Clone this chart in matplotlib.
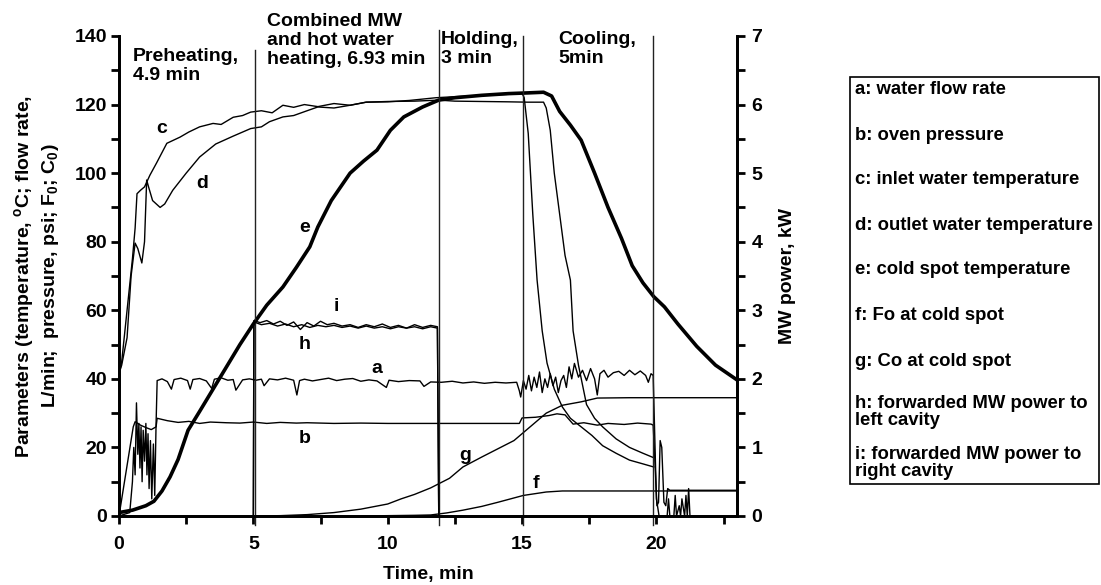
import matplotlib.pyplot as plt
from matplotlib.ticker import MultipleLocator
from matplotlib.patches import Rectangle

plt.rcParams['font.family'] = ['Liberation Sans', 'DejaVu Sans']
plt.rcParams['font.weight'] = 'bold'
plt.rcParams['mathtext.fontset'] = 'custom'
plt.rcParams['mathtext.rm'] = 'Liberation Sans:bold'
plt.rcParams['mathtext.bf'] = 'Liberation Sans:bold'
plt.rcParams['mathtext.it'] = 'Liberation Sans:bold'

# a: water flow rate (L/min)
a_t = [0, 0.2, 0.4, 0.5, 0.55, 0.6, 0.65, 0.7, 0.74, 0.78, 0.82, 0.86, 0.9, 0.95, 1.0, 1.04,
       1.08, 1.12, 1.17, 1.22, 1.28, 1.33, 1.38, 1.42, 1.6, 1.8, 1.95, 2.05, 2.3, 2.55, 2.65,
       2.75, 3.0, 3.25, 3.45, 3.55, 3.8, 4.05, 4.25, 4.35, 4.6, 4.85, 5.1, 5.3, 5.4, 5.6, 5.9,
       6.2, 6.5, 6.62, 6.72, 6.9, 7.2, 7.5, 7.8, 8.1, 8.4, 8.7, 9.0, 9.3, 9.6, 9.95, 10.05,
       10.4, 10.8, 11.2, 11.35, 11.6, 12.0, 12.4, 12.8, 13.2, 13.6, 14.0, 14.4, 14.8, 14.9,
       14.95, 15.05, 15.15, 15.25, 15.35, 15.45, 15.55, 15.65, 15.75, 15.85, 15.95, 16.05,
       16.15, 16.25, 16.35, 16.45, 16.55, 16.65, 16.75, 16.85, 16.95, 17.1, 17.25, 17.4,
       17.55, 17.7, 17.8, 17.9, 18.05, 18.2, 18.4, 18.6, 18.8, 19.0, 19.2, 19.4, 19.6, 19.7,
       19.8, 19.88, 19.95, 20.0, 20.1, 20.4, 20.45, 20.5, 20.65, 20.7, 20.75, 20.85, 20.9,
       20.95, 21.05, 21.1, 21.15, 21.2, 21.25]
a_v = [0, 0.5, 1, 10, 20, 12, 33, 18, 27, 14, 26, 10, 25, 16, 27, 12,
       24, 8, 22, 5, 21, 6, 27, 39.5, 40, 39.2, 37, 39.8, 40.2, 39.5, 37,
       39.8, 40.1, 39.4, 37.2, 39.9, 40.3, 39.6, 39.8, 36.7, 39.7, 40.0, 39.6, 39.9, 38.0, 40.0, 39.7,
       40.2, 39.6, 35.3, 39.5, 39.9, 39.4, 39.8, 40.2, 39.5, 39.9, 40.1, 39.3, 39.7, 39.4, 37.5, 39.6,
       39.2, 39.5, 39.4, 37.8, 39.1, 39.0, 39.3, 38.8, 39.1, 38.7, 39.0, 38.8, 39.0, 36.5,
       34.7, 39.5, 37.0, 41.0, 36.5, 40.5, 37.5, 42.0, 36.0, 40.0, 37.5, 41.5,
       38.0, 40.5, 36.0, 39.5, 41.0, 37.5, 43.5, 40.0, 44.5, 40.5, 42.5, 39.5,
       43.0, 40.0, 35.3, 41.5, 42.5, 40.5, 41.8, 42.2, 41.0, 42.5, 41.2, 42.3, 41.0, 39.0,
       41.5, 41.0, 20, 5, 0, 0, 5, 0, 0, 6, 0, 3, 0,
       5, 0, 6, 0, 8, 0]

# b: oven pressure (psi)
b_t = [0, 0.53, 0.6, 0.8, 1.0, 1.2, 1.38, 1.42, 1.8, 2.2, 2.6, 3.0, 3.4, 4.0, 4.5, 5.0, 5.5,
       6.0, 6.6, 7.0, 8.0, 9.0, 10.0, 11.0, 12.0, 13.0, 14.0, 14.9, 15.0, 15.5, 16.0, 16.3,
       16.6, 16.9, 17.3, 17.8, 18.2, 18.8, 19.3, 19.8, 19.88, 19.95, 20.02, 20.08, 20.14,
       20.2, 20.28, 20.35, 20.42, 20.5, 21.5, 23.0]
b_v = [0, 26, 27.5, 26.5, 25.8, 25.2, 26.0, 28.5, 27.8, 27.3, 27.6, 27.0, 27.4, 27.2, 27.1, 27.4, 27.0,
       27.3, 27.1, 27.2, 27.0, 27.1, 27.0, 27.0, 27.0, 27.0, 27.0, 27.0, 28.6, 28.8, 29.3, 29.8,
       29.5, 26.8, 27.2, 26.5, 27.0, 26.7, 27.1, 26.8, 26.5, 15, 3, 4, 22,
       20, 4, 3, 8, 7.5, 7.5, 7.5]

# c: inlet water temperature
c_t = [0, 0.02, 0.1, 0.3, 0.5, 0.6, 0.67, 0.8, 0.95, 1.15, 1.4, 1.78, 2.27, 2.6, 3.0, 3.5,
       3.8, 4.25, 4.6, 4.9, 5.3, 5.7, 6.1, 6.5, 6.9, 7.4, 8.0, 8.6, 9.2, 10.0, 10.8, 11.8, 12.5,
       13.5, 14.5, 15.0, 15.08, 15.23, 15.4, 15.56, 15.75, 15.93, 16.2, 16.5, 16.8, 17.2,
       17.6, 18.0, 18.5, 19.0, 19.5, 19.9]
c_v = [0, 42, 45, 60, 75, 84, 94, 95, 96, 99.4, 103, 108.7, 110.5, 112, 113.5, 114.5,
       114.2, 116.3, 116.8, 117.8, 118.2, 117.6, 119.8, 119.2, 120.0, 119.4, 120.3, 119.8, 120.7, 120.8, 121.2, 122.0, 122.3,
       122.7, 123.0, 123.3, 122.0, 111.6, 88, 68.8, 54, 44.6, 37, 31.8, 28.5, 26,
       23.5, 20.5, 18.3, 16.3, 15.2, 14.3]

# d: outlet water temperature
d_t = [0, 0.02, 0.1, 0.3, 0.45, 0.6, 0.7, 0.85, 0.95, 1.03, 1.1, 1.25, 1.53, 1.7, 2.0, 2.5,
       3.0, 3.6, 4.25, 4.9, 5.3, 5.6, 6.1, 6.5, 7.0, 7.4, 8.0, 8.6, 9.2, 10.0, 11.0, 11.9, 12.5,
       13.5, 14.5, 15.2, 15.8, 15.9, 16.05, 16.2, 16.4, 16.6, 16.8, 16.9, 17.1, 17.4, 17.7,
       18.0, 18.5, 19.0, 19.5, 19.9]
d_v = [0, 42, 44, 52, 70, 79.6, 78, 73.8, 80, 98, 96, 92, 90, 91, 95, 100,
       104.7, 108.5, 110.8, 113.0, 113.5, 115.0, 116.4, 116.8, 118.2, 119.3, 119.0, 119.8, 120.7, 120.9, 121.0, 121.3, 121.0,
       120.9, 120.8, 120.7, 120.7, 119, 112.5, 100, 88, 76, 68.8, 54, 44, 32.5, 28.5,
       26, 22.5, 20, 18.3, 17]

# e: cold spot temperature
e_t = [0, 0.5, 1.0, 1.3, 1.6, 1.9, 2.2, 2.57, 3.0, 3.5, 4.0, 4.5, 5.0, 5.5, 6.1, 6.6, 7.1,
       7.4, 7.9, 8.6, 9.1, 9.6, 10.1, 10.6, 11.3, 11.9, 12.5, 13.5, 14.5, 15.2, 15.8, 16.1,
       16.4, 16.8, 17.2, 17.7, 18.2, 18.7, 19.1, 19.5, 19.9, 20.3, 20.8, 21.5, 22.2, 23.0]
e_v = [1, 1.7, 3, 4.3, 7.3, 11.4, 16.5, 25, 30.5, 37, 43.5, 50, 56, 61.5, 66.8, 72.5, 78.5,
       84.3, 92, 100, 103.5, 106.7, 112.5, 116.4, 119.3, 121.3, 122, 122.7, 123.2, 123.4, 123.6, 122.5,
       118, 114, 109.6, 100, 90, 81, 73, 68, 64, 61, 56, 49.5, 44, 39.7]

# f: Fo at cold spot
f_t = [9.0, 10.0, 11.0, 11.6, 12.2, 12.8, 13.5, 14.1, 15.05, 15.9, 16.5, 23.0]
f_v = [0, 0.1, 0.2, 0.3, 0.9, 1.7, 2.8, 4.0, 6.0, 7.0, 7.3, 7.3]

# g: Co at cold spot
g_t = [5.0, 6.0, 7.0, 8.0, 9.0, 10.0, 10.5, 11.0, 11.6, 12.3, 12.8, 13.5, 14.2, 14.7, 15.3,
       15.9, 16.5, 17.2, 17.8, 19.0, 23.0]
g_v = [0, 0.1, 0.4, 1.0, 2.0, 3.5, 5.0, 6.3, 8.2, 11.0, 14.3, 17.2, 20.0, 22.0, 26.0,
       30.0, 32.3, 33.3, 34.4, 34.5, 34.5]

# h, i: forwarded MW power (kW)
h_t = [5.0, 5.02, 5.3, 5.6, 5.9, 6.2, 6.5, 6.8, 7.1, 7.4, 7.7, 8.0, 8.3, 8.6, 8.9, 9.2, 9.5,
       9.8, 10.1, 10.4, 10.7, 11.0, 11.3, 11.6, 11.85, 11.9]
h_v = [0, 2.83, 2.79, 2.81, 2.77, 2.80, 2.76, 2.79, 2.75, 2.78, 2.76, 2.78, 2.75, 2.77, 2.74, 2.77, 2.74,
       2.76, 2.73, 2.76, 2.74, 2.76, 2.73, 2.76, 2.74, 0]
i_t = [5.0, 5.02, 5.25, 5.5, 5.75, 6.0, 6.25, 6.5, 6.75, 7.0, 7.25, 7.5, 7.75, 8.0, 8.3, 8.6,
       8.9, 9.2, 9.5, 9.8, 10.1, 10.4, 10.7, 11.0, 11.3, 11.6, 11.85, 11.9]
i_v = [0, 2.85, 2.82, 2.85, 2.80, 2.84, 2.78, 2.83, 2.72, 2.82, 2.77, 2.84, 2.79, 2.81, 2.77, 2.79,
       2.75, 2.79, 2.76, 2.80, 2.75, 2.78, 2.74, 2.79, 2.75, 2.78, 2.76, 0]

phase_x = [5.05, 11.9, 15.05, 19.88]
phase_top = [136, 141.7, 140, 140]
phase_text = ['Preheating,\n4.9 min', 'Combined MW\nand hot water\nheating, 6.93 min',
              'Holding,\n3 min', 'Cooling,\n5min']
legend_lines = ['a: water flow rate', 'b: oven pressure', 'c: inlet water temperature',
                'd: outlet water temperature', 'e: cold spot temperature',
                'f: Fo at cold spot', 'g: Co at cold spot',
                'h: forwarded MW power to\nleft cavity',
                'i: forwarded MW power to\nright cavity']
curve_labels = [('a', 9.6, 43), ('b', 6.9, 22.5), ('c', 1.6, 113), ('d', 3.1, 97),
                ('e', 6.9, 84), ('f', 15.5, 9.5), ('g', 12.9, 17.5), ('h', 6.9, 50),
                ('i', 8.1, 61)]

W, H = 1101, 585
fig = plt.figure(figsize=(W / 100, H / 100), dpi=100)
ax = fig.add_axes([119 / W, 1 - 516 / H, (737 - 119) / W, (516 - 36) / H])
ax2 = ax.twinx()

thin = dict(color='black', lw=1.0)
ax.plot(a_t, a_v, **thin)
ax.plot(b_t, b_v, **thin)
ax.plot(c_t, c_v, **thin)
ax.plot(d_t, d_v, **thin)
ax.plot(f_t, f_v, **thin)
ax.plot(g_t, g_v, **thin)
ax.plot(e_t, e_v, color='black', lw=2.6)
ax2.plot(h_t, h_v, **thin)
ax2.plot(i_t, i_v, **thin)

for x, top in zip(phase_x, phase_top):
    ax.plot([x, x], [-2.5, top], color='#222222', lw=1.0, clip_on=False)

ax.set_xlim(0, 23)
ax.set_ylim(0, 140)
ax2.set_ylim(0, 7)
ax.xaxis.set_major_locator(MultipleLocator(5))
ax.xaxis.set_minor_locator(MultipleLocator(2.5))
ax.yaxis.set_major_locator(MultipleLocator(20))
ax.yaxis.set_minor_locator(MultipleLocator(10))
ax2.yaxis.set_major_locator(MultipleLocator(1))
ax2.yaxis.set_minor_locator(MultipleLocator(0.5))

for a_ in (ax, ax2):
    a_.spines['top'].set_visible(False)
    for s in ('left', 'bottom', 'right'):
        a_.spines[s].set_linewidth(2)
    a_.tick_params(which='both', direction='out', width=2, length=5.5, labelsize=14)
ax.tick_params(axis='x', which='both', pad=9)
ax.tick_params(axis='y', which='both', pad=3)
ax2.tick_params(axis='y', which='both', pad=5)

fig.text(428 / W, 1 - 574 / H, 'Time, min', fontsize=14, fontweight='bold',
         ha='center', va='center')
ax.set_ylabel('Parameters (temperature, $^{o}$C; flow rate,\nL/min;  pressure, psi; F$_0$; C$_0$)',
              fontsize=14, fontweight='bold', labelpad=10, linespacing=1.25)
ax2.set_ylabel('MW power, kW', fontsize=14, fontweight='bold', labelpad=12)

# phase headings (figure pixel positions)
phase_pos = [(133, 48), (267, 13), (441, 31), (558, 31)]
for (px, py), txt in zip(phase_pos, phase_text):
    fig.text(px / W, 1 - py / H, txt, fontsize=14, fontweight='bold',
             va='top', ha='left', linespacing=1.15)

for name, x, y in curve_labels:
    ax.text(x, y, name, fontsize=14, fontweight='bold', ha='center', va='center')

# legend box
fig.patches.append(Rectangle((850 / W, 1 - 484 / H), (1099 - 850) / W, (484 - 77) / H,
                             transform=fig.transFigure, fill=False, lw=1.2, edgecolor='black'))
leg_y = [90, 135, 180, 225, 270, 315, 362, 412, 463]
for y, txt in zip(leg_y, legend_lines):
    fig.text(855 / W, 1 - y / H, txt, fontsize=13.3, fontweight='bold',
             va='center', ha='left', linespacing=0.95)

fig.savefig('out.png', dpi=100)
